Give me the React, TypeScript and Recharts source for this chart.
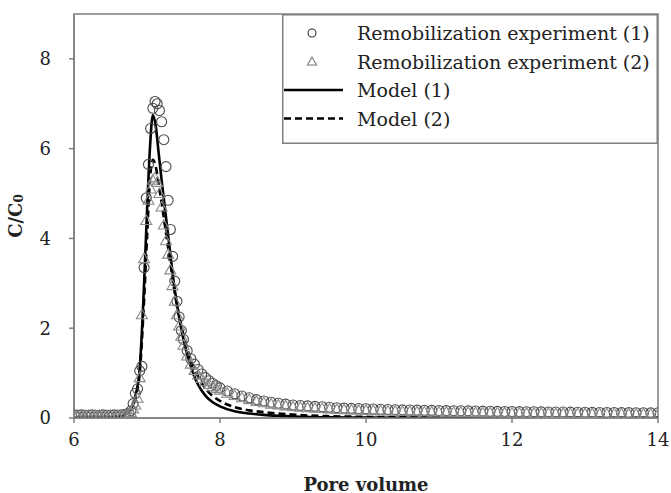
import { ComposedChart, Scatter, Line, XAxis, YAxis, ReferenceArea } from "recharts";

// pore volumes where the effluent was sampled (both runs)
const samplePV = [
  6.0, 6.05, 6.1, 6.15, 6.2, 6.25, 6.3, 6.35, 6.4, 6.45, 6.5, 6.55, 6.6, 6.65, 6.7, 6.75,
  6.78, 6.81, 6.84, 6.87, 6.9, 6.93, 6.96, 6.99, 7.02, 7.05, 7.08, 7.11, 7.14, 7.17, 7.2,
  7.23, 7.26, 7.29, 7.32, 7.35, 7.38, 7.41, 7.44, 7.47, 7.5,
  7.55, 7.6, 7.65, 7.7, 7.75, 7.8, 7.85, 7.9, 7.95, 8.0,
  8.1, 8.2, 8.3, 8.4, 8.5, 8.6, 8.7, 8.8, 8.9, 9.0,
  9.1, 9.2, 9.3, 9.4, 9.5, 9.6, 9.7, 9.8, 9.9, 10.0,
  10.1, 10.2, 10.3, 10.4, 10.5, 10.6, 10.7, 10.8, 10.9, 11.0,
  11.1, 11.2, 11.3, 11.4, 11.5, 11.6, 11.7, 11.8, 11.9, 12.0,
  12.1, 12.2, 12.3, 12.4, 12.5, 12.6, 12.7, 12.8, 12.9, 13.0,
  13.1, 13.2, 13.3, 13.4, 13.5, 13.6, 13.7, 13.8, 13.9, 14.0,
];

const exp1 = [
  0.07, 0.06, 0.07, 0.06, 0.06, 0.07, 0.06, 0.06, 0.07, 0.06, 0.06, 0.07, 0.06, 0.07, 0.08, 0.1,
  0.16, 0.32, 0.55, 0.65, 1.05, 1.15, 3.35, 4.9, 5.65, 6.45, 6.9, 7.05, 7.0, 6.85, 6.6,
  6.2, 5.6, 4.85, 4.2, 3.6, 3.05, 2.6, 2.25, 1.95, 1.75,
  1.5, 1.32, 1.2, 1.08, 0.98, 0.9, 0.83, 0.77, 0.72, 0.67,
  0.6, 0.54, 0.49, 0.45, 0.41, 0.38, 0.35, 0.33, 0.31, 0.29,
  0.28, 0.27, 0.26, 0.25, 0.24, 0.23, 0.22, 0.215, 0.21, 0.205,
  0.2, 0.195, 0.19, 0.185, 0.18, 0.178, 0.175, 0.172, 0.17, 0.167,
  0.165, 0.162, 0.16, 0.158, 0.155, 0.153, 0.15, 0.148, 0.146, 0.144,
  0.142, 0.14, 0.139, 0.137, 0.135, 0.134, 0.132, 0.13, 0.129, 0.127,
  0.126, 0.124, 0.123, 0.122, 0.12, 0.119, 0.118, 0.116, 0.115, 0.114,
];

const exp2 = [
  0.05, 0.06, 0.05, 0.05, 0.06, 0.05, 0.05, 0.06, 0.05, 0.05, 0.06, 0.05, 0.06, 0.06, 0.07, 0.09,
  0.12, 0.2, 0.29, 0.44, 0.9, 2.3, 3.55, 4.4, 4.85, 5.1, 5.3, 5.35, 5.25, 5.0, 4.7,
  4.3, 3.95, 3.65, 3.3, 2.95, 2.6, 2.3, 2.05, 1.82, 1.62,
  1.38, 1.2, 1.06, 0.96, 0.88, 0.81, 0.75, 0.7, 0.66, 0.62,
  0.55, 0.5, 0.45, 0.41, 0.37, 0.34, 0.31, 0.29, 0.27, 0.25,
  0.24, 0.23, 0.22, 0.21, 0.2, 0.19, 0.185, 0.18, 0.175, 0.17,
  0.165, 0.16, 0.155, 0.15, 0.147, 0.144, 0.141, 0.138, 0.135, 0.132,
  0.13, 0.128, 0.126, 0.124, 0.122, 0.12, 0.118, 0.116, 0.114, 0.112,
  0.11, 0.108, 0.107, 0.105, 0.104, 0.102, 0.101, 0.1, 0.099, 0.098,
  0.097, 0.096, 0.095, 0.094, 0.093, 0.092, 0.091, 0.09, 0.089, 0.088,
];

// model curves
const modelPV = [
  6.0, 6.2, 6.4, 6.5, 6.6, 6.65, 6.7, 6.75, 6.8, 6.85, 6.9, 6.95, 7.0, 7.04, 7.08, 7.12,
  7.16, 7.2, 7.24, 7.28, 7.32, 7.36, 7.4, 7.45, 7.5, 7.55, 7.6, 7.65, 7.7, 7.8, 7.9, 8.0,
  8.2, 8.4, 8.6, 8.8, 9.0, 9.5, 10, 11, 12, 13, 14,
];
const model1 = [
  0, 0, 0, 0.005, 0.02, 0.04, 0.08, 0.15, 0.28, 0.55, 1.1, 2.6, 4.6, 6.0, 6.75, 6.5,
  5.9, 5.3, 4.75, 4.2, 3.65, 3.1, 2.65, 2.15, 1.75, 1.42, 1.15, 0.92, 0.74, 0.5, 0.35, 0.26,
  0.15, 0.1, 0.07, 0.05, 0.035, 0.015, 0.01, 0.004, 0.002, 0, 0,
];
const model2 = [
  0, 0, 0, 0.005, 0.02, 0.04, 0.07, 0.13, 0.25, 0.5, 1.0, 2.3, 4.0, 5.3, 5.75, 5.6,
  5.2, 4.8, 4.35, 3.9, 3.45, 3.0, 2.6, 2.2, 1.85, 1.55, 1.3, 1.1, 0.92, 0.66, 0.49, 0.38,
  0.24, 0.17, 0.13, 0.1, 0.075, 0.04, 0.025, 0.012, 0.006, 0.003, 0.002,
];

const xTicks = [6, 8, 10, 12, 14];
const yTicks = [0, 2, 4, 6, 8];

const legendItems = [
  { label: "Remobilization experiment (1)", kind: "circle" },
  { label: "Remobilization experiment (2)", kind: "triangle" },
  { label: "Model (1)", kind: "solid" },
  { label: "Model (2)", kind: "dashed" },
];

const toPoints = (xs: number[], ys: number[]) => xs.map((x, i) => ({ x, y: ys[i] }));

const FONT = "'DejaVu Serif', serif";
const AXIS = "#7f7f7f";

const CircleMark = (p: any) => (
  <circle cx={p.cx} cy={p.cy} r={5} fill="none" stroke="#4a4a4a" strokeWidth={1.1} />
);

const TriangleMark = (p: any) => (
  <polygon
    points={`${p.cx},${p.cy - 5.5} ${p.cx - 5.5},${p.cy + 4} ${p.cx + 5.5},${p.cy + 4}`}
    fill="none"
    stroke="#8a8a8a"
    strokeWidth={1.1}
  />
);

const XTitle = (props: any) => {
  const { x, y, width } = props.viewBox;
  return (
    <text x={x + width / 2} y={y + 66} textAnchor="middle" dominantBaseline="central"
      fontFamily={FONT} fontSize={18} fontWeight="bold" fill="#222">
      Pore volume
    </text>
  );
};

const YTitle = (props: any) => {
  const { y, height } = props.viewBox;
  const cx = 15;
  const cy = y + height / 2;
  return (
    <text x={cx} y={cy} textAnchor="middle" dominantBaseline="central"
      transform={`rotate(-90, ${cx}, ${cy})`}
      fontFamily={FONT} fontSize={18} fontWeight="bold" fill="#222">
      C/C<tspan dy={4} fontSize={12}>0</tspan>
    </text>
  );
};

function LegendBox() {
  return (
    <svg width={376} height={130} style={{ position: "absolute", left: 282, top: 14 }}>
      <rect x={0.75} y={0.75} width={374.5} height={128.5} fill="#fff" stroke={AXIS} strokeWidth={1.5} />
      {legendItems.map((item, i) => {
        const cy = 19 + i * 28.5;
        return (
          <g key={item.label}>
            {item.kind === "circle" && (
              <circle cx={30} cy={cy} r={4} fill="none" stroke="#333" strokeWidth={1.1} />
            )}
            {item.kind === "triangle" && (
              <polygon points={`30,${cy - 4.5} 25.5,${cy + 3.5} 34.5,${cy + 3.5}`}
                fill="none" stroke="#777" strokeWidth={1.1} />
            )}
            {item.kind === "solid" && (
              <line x1={2} x2={61} y1={cy} y2={cy} stroke="#000" strokeWidth={2.6} />
            )}
            {item.kind === "dashed" && (
              <line x1={2} x2={61} y1={cy} y2={cy} stroke="#000" strokeWidth={2.6} strokeDasharray="7 4" />
            )}
            <text x={75} y={cy} dominantBaseline="central" fontFamily={FONT} fontSize={19} fill="#222">
              {item.label}
            </text>
          </g>
        );
      })}
    </svg>
  );
}

export default function App() {
  const exp1Data = toPoints(samplePV, exp1);
  const exp2Data = toPoints(samplePV, exp2);
  const model1Data = toPoints(modelPV, model1);
  const model2Data = toPoints(modelPV, model2);

  return (
    <div style={{ position: "absolute", left: 0, top: 0, width: 671, height: 493, background: "#fff" }}>
      <ComposedChart width={671} height={493} margin={{ top: 14, right: 13, bottom: 0, left: 24 }}>
        <XAxis
          type="number"
          dataKey="x"
          domain={[6, 14]}
          ticks={xTicks}
          allowDataOverflow
          height={75}
          stroke={AXIS}
          strokeWidth={1.5}
          tickSize={5}
          tickMargin={10}
          tick={{ fill: "#222", fontSize: 18, fontFamily: FONT }}
          label={{ content: XTitle }}
        />
        <YAxis
          type="number"
          dataKey="y"
          domain={[0, 9]}
          ticks={yTicks}
          allowDataOverflow
          width={50}
          stroke={AXIS}
          strokeWidth={1.5}
          tickSize={5}
          tickMargin={18}
          tick={{ fill: "#222", fontSize: 18, fontFamily: FONT }}
          label={{ content: YTitle }}
        />
        <ReferenceArea x1={6} x2={14} y1={0} y2={9} fill="none" stroke={AXIS} strokeWidth={1.5} />
        <Scatter data={exp1Data} dataKey="y" shape={CircleMark} isAnimationActive={false} />
        <Scatter data={exp2Data} dataKey="y" shape={TriangleMark} isAnimationActive={false} />
        <Line data={model1Data} dataKey="y" type="monotone" stroke="#000" strokeWidth={2.6}
          dot={false} activeDot={false} isAnimationActive={false} />
        <Line data={model2Data} dataKey="y" type="monotone" stroke="#000" strokeWidth={2.6}
          strokeDasharray="7 4" dot={false} activeDot={false} isAnimationActive={false} />
      </ComposedChart>
      <LegendBox />
    </div>
  );
}
